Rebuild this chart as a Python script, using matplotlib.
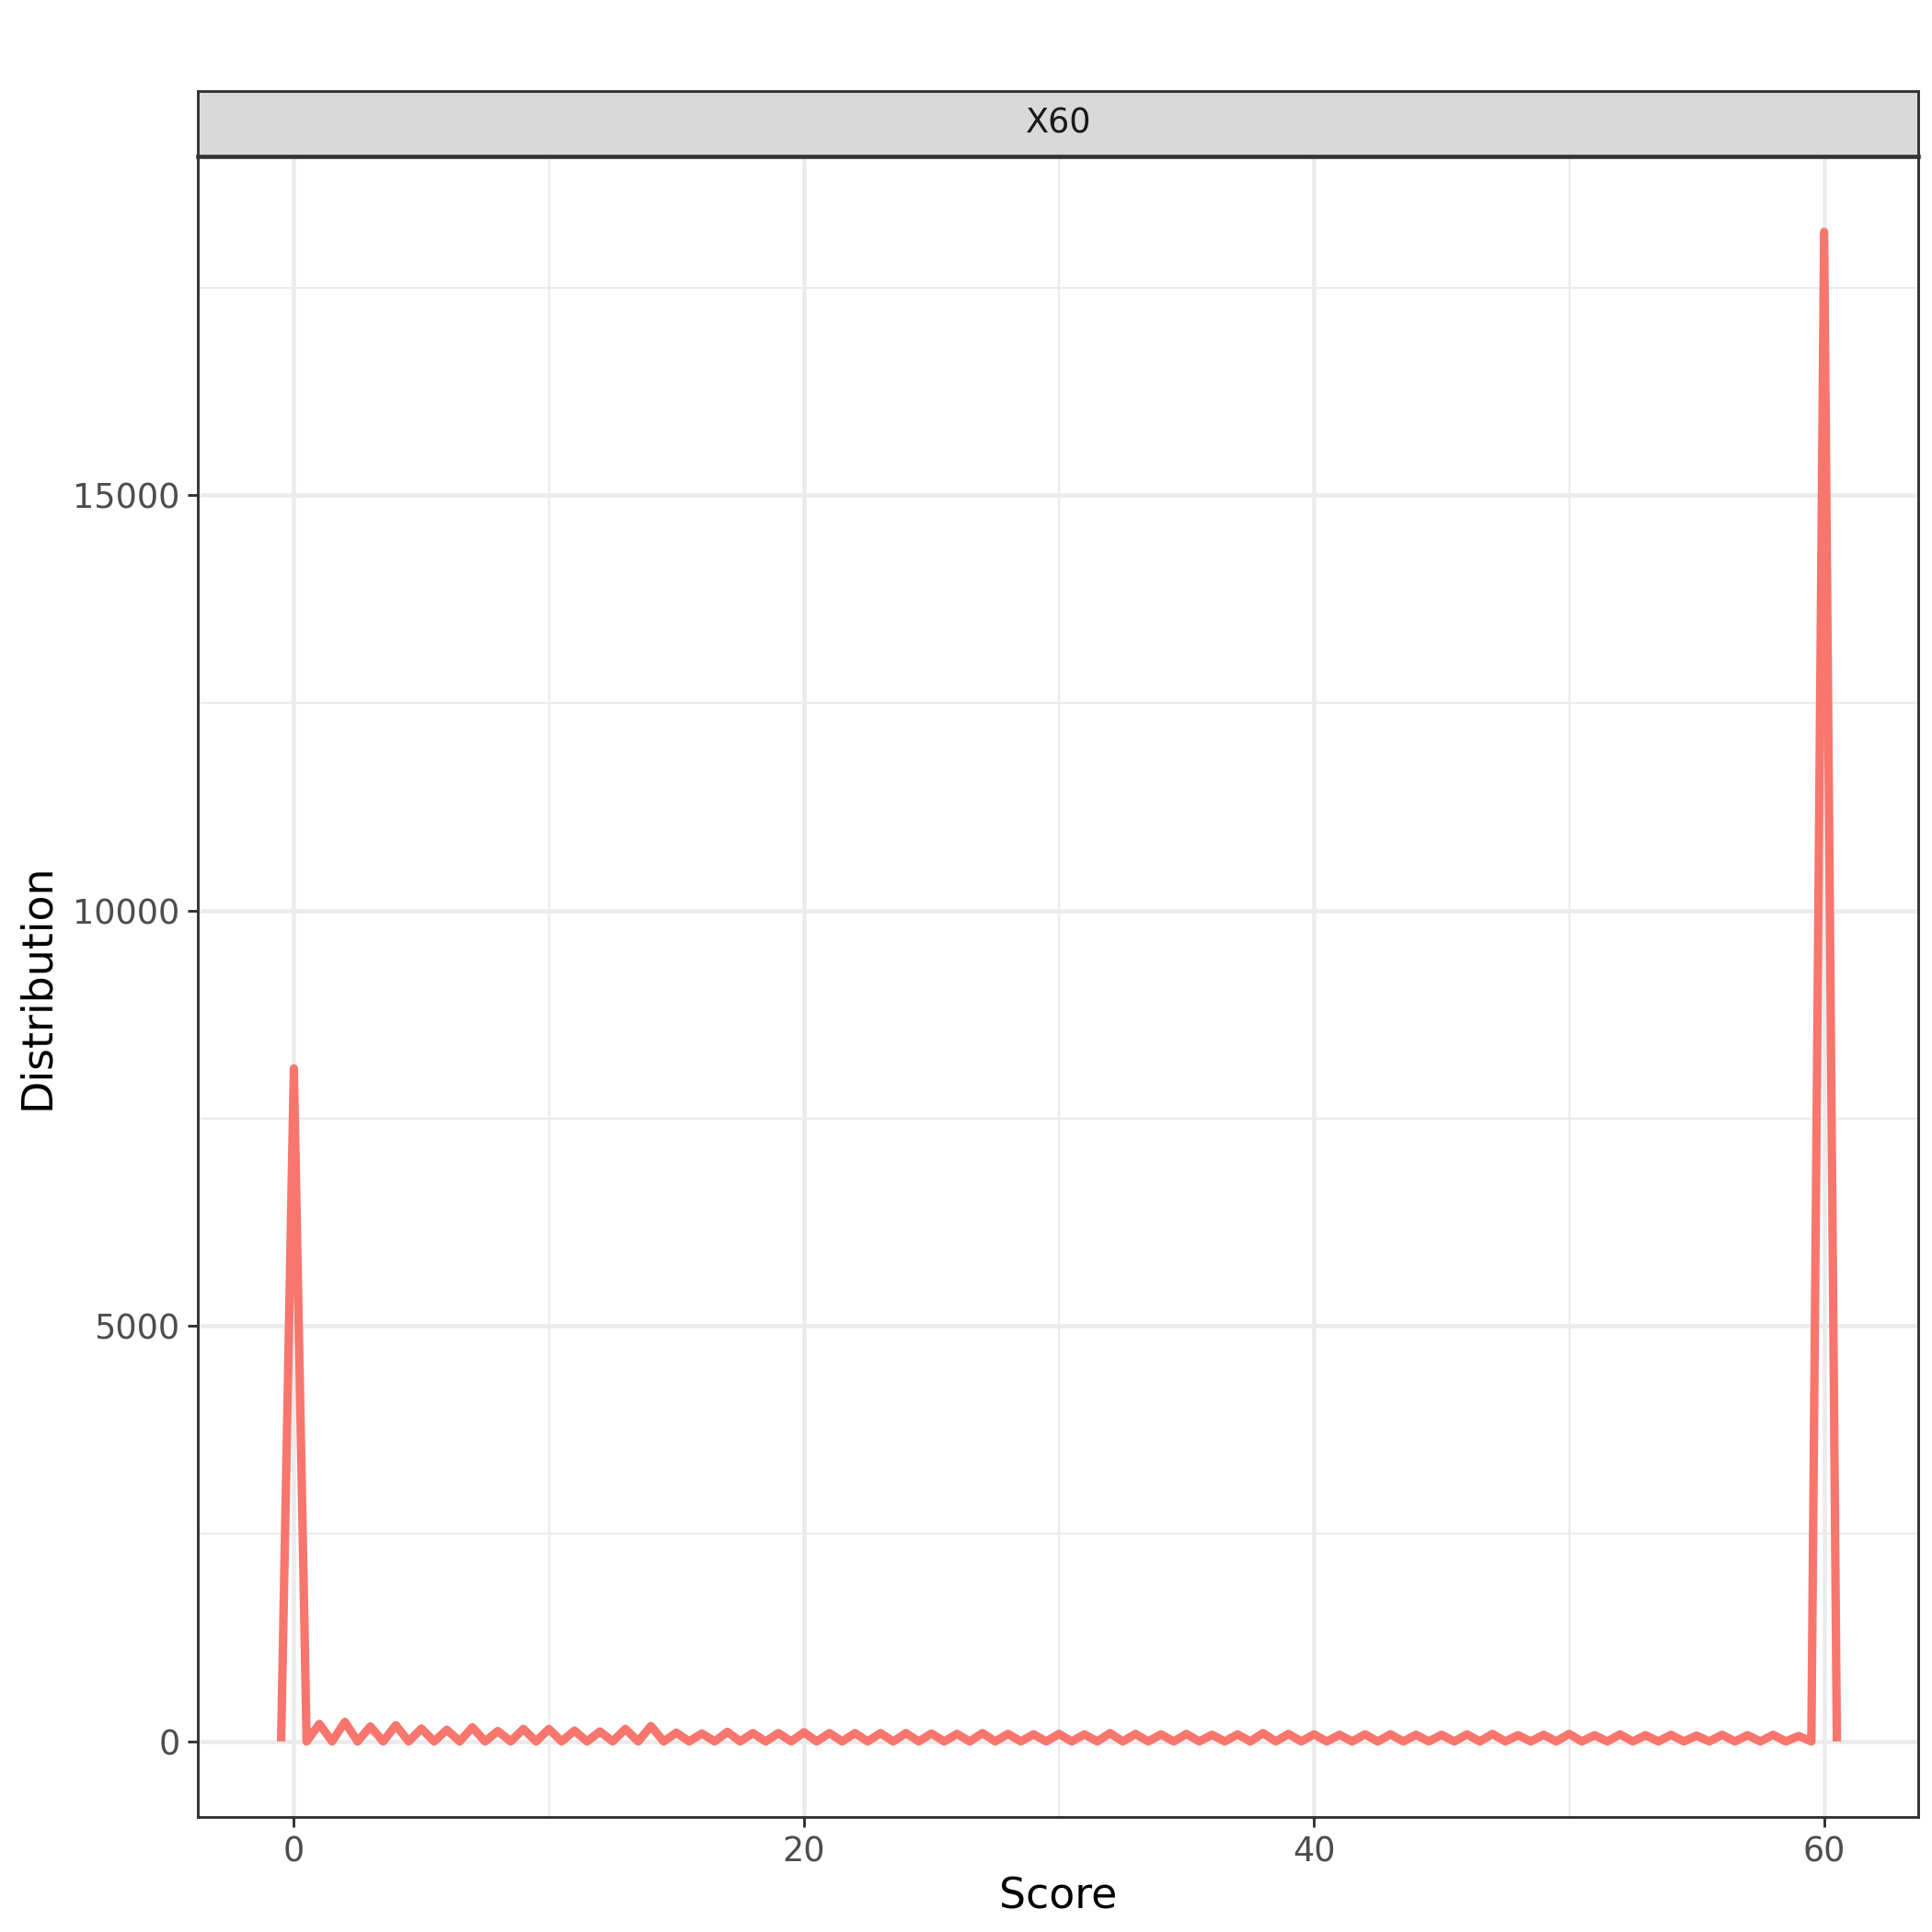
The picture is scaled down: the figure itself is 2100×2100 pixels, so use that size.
import numpy as np
import matplotlib
matplotlib.use("Agg")
import matplotlib.pyplot as plt

## counts per integer score (freqpoly with binwidth 0.5 -> zero at half steps)
scores = list(range(0, 61))
counts = [8100,
          210, 235, 180, 195, 155, 140, 170, 125, 150, 150,
          130, 120, 150, 185, 105, 95, 115, 100, 100, 110,
          100, 100, 100, 100, 95, 90, 100, 90, 85, 90,
          85, 100, 90, 85, 90, 80, 85, 100, 90, 85,
          80, 85, 85, 80, 80, 85, 90, 75, 80, 90,
          75, 85, 75, 80, 70, 80, 75, 80, 65,
          18170]
facet_label = "X60"

x = np.arange(-0.5, 61.0, 0.5)
y = np.zeros(len(x))
for s, c in zip(scores, counts):
    y[int(round((s + 0.5) * 2))] = c

line_col = "#F8766D"
grid_col = "#EBEBEB"
border_col = "#333333"

fig = plt.figure(figsize=(7, 7), dpi=300)
ax = fig.add_axes([0.1026, 0.0596, 0.993 - 0.1026, 0.919 - 0.0596])

ax.plot(x, y, color=line_col, linewidth=2.2, solid_joinstyle="round",
        solid_capstyle="butt", zorder=3)

ax.set_xlim(-3.75, 63.7)
ax.set_ylim(-908, 19078)
ax.set_xticks([0, 20, 40, 60])
ax.set_xticks([10, 30, 50], minor=True)
ax.set_yticks([0, 5000, 10000, 15000])
ax.set_yticks([2500, 7500, 12500, 17500], minor=True)

ax.grid(which="major", color=grid_col, linewidth=1.1, zorder=0)
ax.grid(which="minor", color=grid_col, linewidth=0.55, zorder=0)
ax.set_axisbelow(True)

for sp in ax.spines.values():
    sp.set_color(border_col)
    sp.set_linewidth(0.7)

ax.tick_params(which="major", length=2.75, width=0.7, color=border_col,
               labelsize=8.8, labelcolor="#4D4D4D", pad=2)
ax.tick_params(which="minor", length=0)

ax.set_xlabel("Score", fontsize=11, labelpad=2)
ax.set_ylabel("Distribution", fontsize=11, labelpad=4)

# facet strip
strip = fig.add_axes([0.1026, 0.919, 0.993 - 0.1026, 0.953 - 0.919])
strip.set_xticks([])
strip.set_yticks([])
strip.set_facecolor("#D9D9D9")
for sp in strip.spines.values():
    sp.set_color(border_col)
    sp.set_linewidth(0.7)
strip.spines["bottom"].set_linewidth(1.1)
strip.text(0.5, 0.5, facet_label, ha="center", va="center", fontsize=8.8,
           color="#1A1A1A", transform=strip.transAxes)

plt.savefig("out.png", dpi=300)
